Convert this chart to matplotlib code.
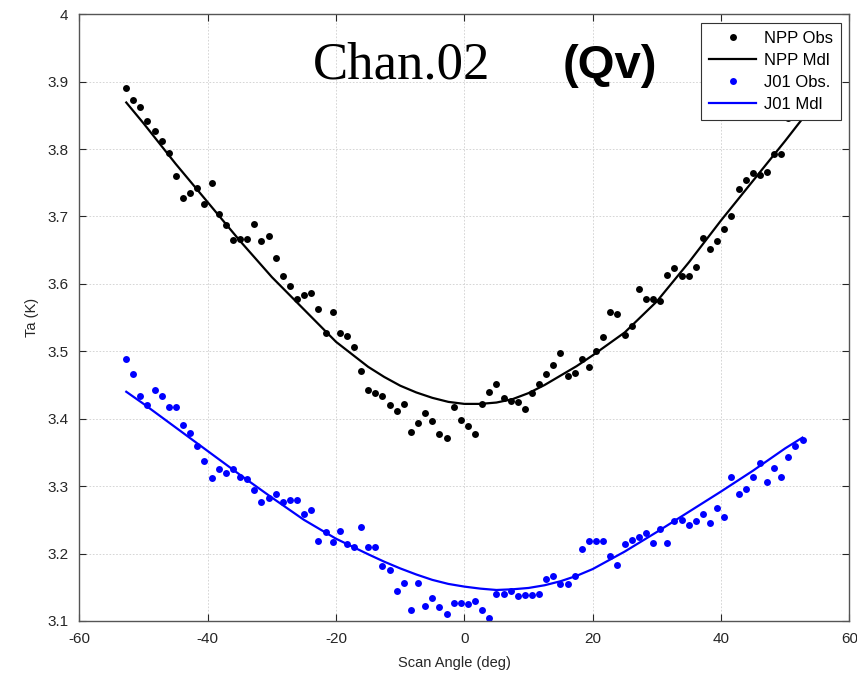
import numpy as np
import matplotlib
matplotlib.use('Agg')
import matplotlib.pyplot as plt

plt.rcParams['font.family'] = ['Liberation Sans', 'DejaVu Sans']

#%% data (96 scan positions)
scan_angle = -52.725 + 1.11 * np.arange(96)

npp_obs = [3.890, 3.872, 3.863, 3.841, 3.826, 3.812, 3.794, 3.760, 3.728, 3.735,
           3.742, 3.718, 3.749, 3.704, 3.688, 3.665, 3.666, 3.666, 3.689, 3.663,
           3.671, 3.639, 3.612, 3.597, 3.577, 3.583, 3.586, 3.563, 3.527, 3.558,
           3.527, 3.522, 3.506, 3.471, 3.442, 3.438, 3.434, 3.421, 3.411, 3.422,
           3.380, 3.393, 3.409, 3.396, 3.377, 3.371, 3.417, 3.398, 3.389, 3.378,
           3.422, 3.440, 3.452, 3.430, 3.427, 3.425, 3.415, 3.438, 3.451, 3.466,
           3.480, 3.498, 3.463, 3.468, 3.489, 3.477, 3.500, 3.521, 3.558, 3.555,
           3.524, 3.538, 3.592, 3.578, 3.577, 3.574, 3.613, 3.624, 3.611, 3.612,
           3.625, 3.668, 3.652, 3.663, 3.682, 3.700, 3.741, 3.754, 3.765, 3.762,
           3.766, 3.792, 3.793, 3.846, 3.860, 3.875]

j01_obs = [3.489, 3.467, 3.434, 3.421, 3.442, 3.433, 3.417, 3.417, 3.391, 3.379,
           3.359, 3.337, 3.312, 3.326, 3.319, 3.326, 3.313, 3.311, 3.294, 3.276,
           3.282, 3.288, 3.276, 3.280, 3.279, 3.259, 3.264, 3.219, 3.232, 3.217,
           3.233, 3.214, 3.210, 3.239, 3.210, 3.210, 3.181, 3.175, 3.145, 3.157,
           3.117, 3.157, 3.122, 3.134, 3.121, 3.111, 3.126, 3.126, 3.125, 3.129,
           3.117, 3.105, 3.140, 3.140, 3.145, 3.137, 3.138, 3.139, 3.140, 3.163,
           3.166, 3.155, 3.155, 3.166, 3.207, 3.218, 3.219, 3.218, 3.197, 3.183,
           3.214, 3.220, 3.224, 3.231, 3.216, 3.237, 3.216, 3.248, 3.250, 3.242,
           3.248, 3.259, 3.245, 3.268, 3.254, 3.313, 3.288, 3.296, 3.313, 3.334,
           3.306, 3.327, 3.314, 3.343, 3.359, 3.369]

# model curves read at a few angles
mdl_angle = [-52.7, -50, -45, -40, -35, -30, -25, -20, -15, -12.5, -10, -7.5, -5,
             -2.5, 0, 2.5, 5, 7.5, 10, 12.5, 15, 17.5, 20, 25, 30, 35, 40, 45,
             50, 52.7]
npp_mdl = [3.869, 3.838, 3.778, 3.721, 3.664, 3.610, 3.562, 3.514, 3.477, 3.462,
           3.449, 3.439, 3.431, 3.425, 3.422, 3.422, 3.424, 3.429, 3.438, 3.450,
           3.464, 3.478, 3.494, 3.528, 3.574, 3.632, 3.694, 3.753, 3.812, 3.845]
j01_mdl = [3.440, 3.422, 3.387, 3.352, 3.317, 3.283, 3.250, 3.222, 3.199, 3.188,
           3.178, 3.169, 3.161, 3.155, 3.151, 3.148, 3.146, 3.147, 3.149, 3.153,
           3.159, 3.167, 3.177, 3.203, 3.232, 3.262, 3.292, 3.323, 3.356, 3.372]

xticks = [-60, -40, -20, 0, 20, 40, 60]
xticklabels = ['-60', '-40', '-20', '0', '20', '40', '60']
yticks = [3.1, 3.2, 3.3, 3.4, 3.5, 3.6, 3.7, 3.8, 3.9, 4.0]
yticklabels = ['3.1', '3.2', '3.3', '3.4', '3.5', '3.6', '3.7', '3.8', '3.9', '4']

#%% plot
fig = plt.figure(figsize=(8.57, 6.75), dpi=100)
ax = fig.add_axes([0.0927, 0.08, 0.8983, 0.899])

ax.plot(scan_angle, npp_obs, 'o', color='k', ms=5, mec='none', label='NPP Obs')
ax.plot(mdl_angle, npp_mdl, '-', color='k', lw=1.6, label='NPP Mdl')
ax.plot(scan_angle, j01_obs, 'o', color='#0000ff', ms=5, mec='none', label='J01 Obs.')
ax.plot(mdl_angle, j01_mdl, '-', color='#0000ff', lw=1.6, label='J01 Mdl')

ax.set_xlim(-60, 60)
ax.set_ylim(3.1, 4.0)
ax.set_xticks(xticks)
ax.set_xticklabels(xticklabels)
ax.set_yticks(yticks)
ax.set_yticklabels(yticklabels)
ax.tick_params(direction='in', length=5, width=0.8, top=True, right=True,
               labelsize=11, colors='#262626', pad=8)
ax.grid(True, linestyle=(0, (2, 2)), color='#cfcfcf', lw=0.6)
for s in ax.spines.values():
    s.set_color('#555555')
    s.set_linewidth(1.0)

ax.set_xlabel('Scan Angle (deg)', fontsize=10.5, color='#262626')
ax.set_ylabel('Ta (K)', fontsize=10.5, color='#262626')
ax.xaxis.set_label_coords(0.487, -0.058)
ax.yaxis.set_label_coords(-0.053, 0.5)

ax.text(-23.6, 3.905, 'Chan.02', family='Liberation Serif', fontsize=38, va='baseline')
ax.text(15.3, 3.905, '(Qv)', fontweight='bold', fontsize=34, va='baseline')

leg = ax.legend(loc='upper right', fontsize=12, numpoints=1, handlelength=2.8,
                handletextpad=0.45, labelspacing=0.42, borderaxespad=0.5,
                fancybox=False, framealpha=1, edgecolor='#333333', borderpad=0.5)
leg.get_frame().set_linewidth(0.8)
leg.set_zorder(10)

fig.savefig('out.png', dpi=100)
